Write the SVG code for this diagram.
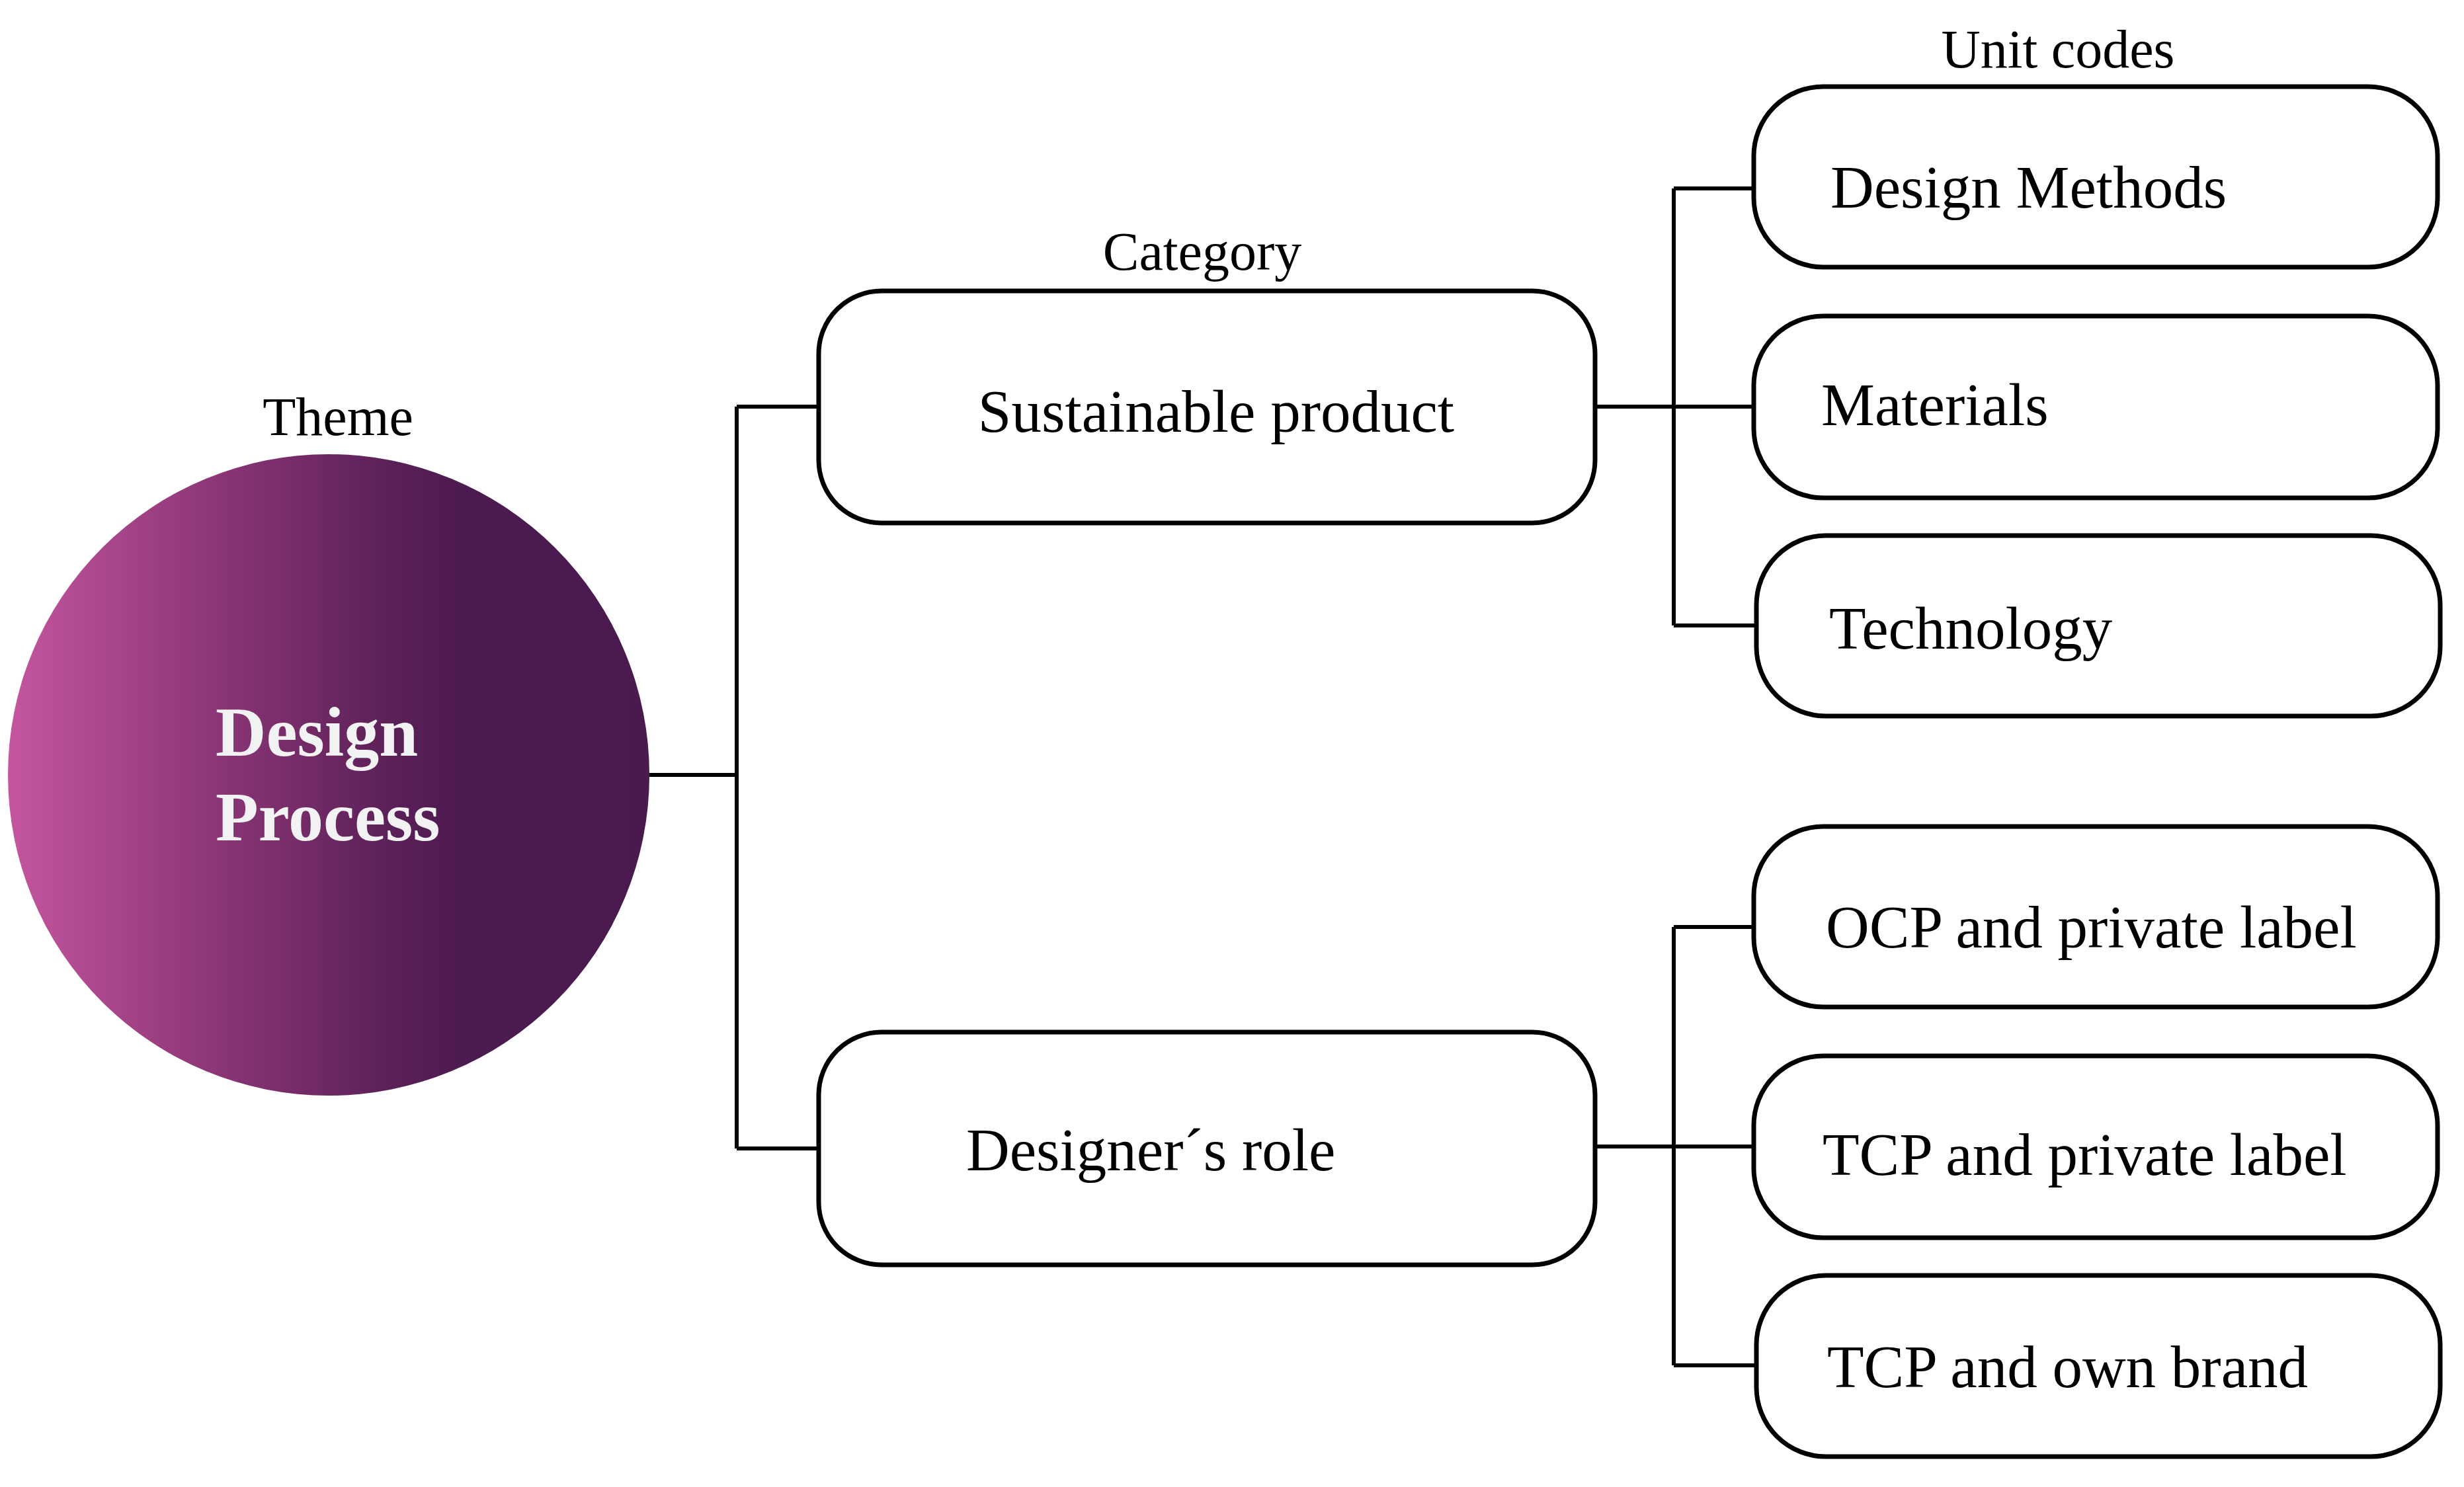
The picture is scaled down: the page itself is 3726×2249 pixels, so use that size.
<svg xmlns="http://www.w3.org/2000/svg" width="3726" height="2249" viewBox="0 0 3726 2249">
<defs>
<linearGradient id="g" x1="0" y1="0" x2="1" y2="0">
<stop offset="0" stop-color="#c4569f"/>
<stop offset="0.3" stop-color="#903879"/>
<stop offset="0.6" stop-color="#5a2058"/>
<stop offset="0.72" stop-color="#4c1a50"/>
<stop offset="1" stop-color="#4a1a4f"/>
</linearGradient>
<style>
.box{fill:#fff;stroke:#000;stroke-width:7}
.t{font-family:"Liberation Serif","Times New Roman",serif;font-size:91px;fill:#000}
.lbl{font-family:"Liberation Serif","Times New Roman",serif;font-size:82px;fill:#000;text-anchor:middle}
.c{fill:none;stroke:#000;stroke-width:6}
.w{font-family:"Liberation Serif","Times New Roman",serif;font-size:106px;font-weight:bold;fill:#f2f2f2}
</style>
</defs>
<rect width="3726" height="2249" fill="#fff"/>
<g id="connectors">
<path class="c" d="M981 1172 H1114 M1114 615 V1737 M1114 615 H1240 M1114 1737 H1240"/>
<path class="c" d="M2412 615 H2654 M2531 285 V946 M2531 285 H2654 M2531 946 H2656"/>
<path class="c" d="M2412 1734 H2654 M2531 1402 V2065 M2531 1402 H2654 M2531 2065 H2656"/>
</g>
<g id="theme">
<text class="lbl" x="511" y="658">Theme</text>
<circle cx="497" cy="1172" r="485" fill="url(#g)"/>
<text class="w" x="326" y="1143">Design</text>
<text class="w" x="326" y="1271">Process</text>
</g>
<text class="lbl" x="1818" y="408">Category</text>
<text class="lbl" x="3112" y="102">Unit codes</text>
<g id="sustainable">
<rect class="box" x="1238" y="440" width="1174" height="351" rx="95"/>
<text class="t" x="1839" y="653" text-anchor="middle">Sustainable product</text>
</g>
<g id="designers-role">
<rect class="box" x="1238" y="1561" width="1174" height="352" rx="95"/>
<text class="t" x="1461" y="1770">Designer´s role</text>
</g>
<g id="design-methods">
<rect class="box" x="2652" y="131" width="1034" height="273" rx="105"/>
<text class="t" x="2768" y="314">Design Methods</text>
</g>
<g id="materials">
<rect class="box" x="2652" y="478" width="1034" height="275" rx="105"/>
<text class="t" x="2754" y="643">Materials</text>
</g>
<g id="technology">
<rect class="box" x="2656" y="810" width="1034" height="273" rx="105"/>
<text class="t" x="2766" y="981">Technology</text>
</g>
<g id="ocp-private">
<rect class="box" x="2652" y="1250" width="1034" height="273" rx="105"/>
<text class="t" x="2761" y="1433">OCP and private label</text>
</g>
<g id="tcp-private">
<rect class="box" x="2652" y="1597" width="1034" height="275" rx="105"/>
<text class="t" x="2756" y="1777">TCP and private label</text>
</g>
<g id="tcp-own">
<rect class="box" x="2656" y="1929" width="1034" height="274" rx="105"/>
<text class="t" x="2763" y="2098">TCP and own brand</text>
</g>
</svg>
